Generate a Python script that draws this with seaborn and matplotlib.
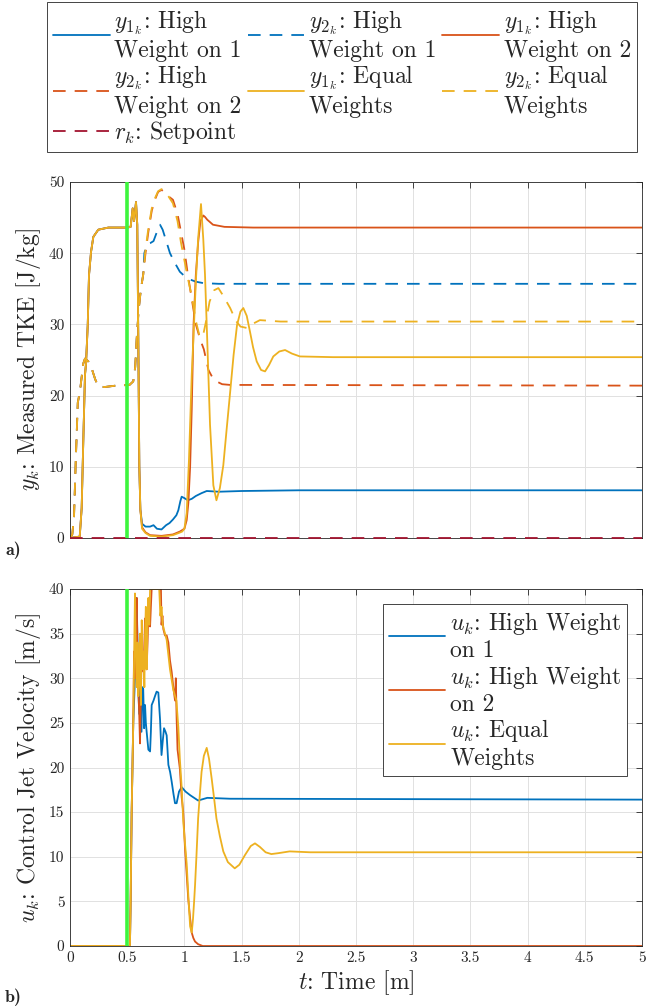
import matplotlib
matplotlib.use("Agg")
import matplotlib.pyplot as plt
import seaborn as sns

# ---------------- data ----------------
# panel a) measured TKE
y1_rise_t = [0.0, 0.085, 0.102, 0.116, 0.131, 0.14, 0.155, 0.166, 0.184, 0.204, 0.247, 0.335, 0.5, 0.53,
             0.548, 0.56, 0.577, 0.588, 0.597, 0.606, 0.615]
y1_rise = [0.0, 0.2, 4.2, 13.5, 22.9, 24.5, 29.9, 36.9, 40.2, 42.3, 43.3, 43.6, 43.6, 43.7,
           46.3, 44.5, 47.2, 44.0, 28.0, 10.0, 4.0]

y1_w1_t = [0.63, 0.66, 0.7, 0.73, 0.76, 0.8, 0.84, 0.87, 0.9, 0.93, 0.947, 0.965, 0.976, 1.0, 1.03,
           1.064, 1.1, 1.15, 1.195, 1.3, 1.5, 2.0, 5.0]
y1_w1 = [2.0, 1.6, 1.6, 1.8, 1.3, 1.2, 1.8, 2.1, 2.6, 3.2, 3.9, 5.2, 5.8, 5.6, 5.3,
         5.5, 5.9, 6.3, 6.6, 6.5, 6.6, 6.7, 6.7]

y1_w2_t = [0.63, 0.66, 0.7, 0.8, 0.9, 0.96, 1.0, 1.02, 1.035, 1.05, 1.064, 1.08, 1.1, 1.12, 1.14,
           1.165, 1.18, 1.2, 1.25, 1.35, 1.6, 5.0]
y1_w2 = [1.5, 0.8, 0.4, 0.3, 0.5, 0.9, 1.3, 2.5, 5.0, 10.0, 18.0, 30.0, 37.0, 41.5, 44.5,
         45.3, 45.1, 44.7, 44.0, 43.7, 43.6, 43.6]

y1_eq_t = [0.63, 0.66, 0.7, 0.8, 0.9, 0.95, 0.98, 1.0, 1.02, 1.04, 1.064, 1.08, 1.1, 1.12, 1.145,
           1.165, 1.18, 1.2, 1.224, 1.253, 1.28, 1.31, 1.34, 1.37, 1.4, 1.43, 1.46, 1.49, 1.515,
           1.545, 1.573, 1.6, 1.632, 1.67, 1.705, 1.74, 1.777, 1.83, 1.88, 1.94, 2.01, 2.3, 5.0]
y1_eq = [1.3, 0.7, 0.3, 0.2, 0.4, 0.7, 0.9, 1.3, 3.5, 11.0, 22.9, 28.5, 36.0, 42.0, 46.9,
         42.0, 37.0, 27.6, 15.9, 7.4, 5.3, 7.0, 10.2, 15.4, 20.5, 25.7, 29.9, 31.8, 32.3,
         31.2, 29.0, 26.8, 24.8, 23.6, 23.4, 24.3, 25.5, 26.2, 26.4, 25.9, 25.5, 25.4, 25.4]

y2_rise_t = [0.0, 0.02, 0.035, 0.05, 0.068, 0.087, 0.116, 0.131, 0.16, 0.19, 0.22, 0.247, 0.3, 0.4,
             0.52, 0.553, 0.57, 0.583, 0.6, 0.62, 0.64]
y2_rise = [0.0, 0.5, 3.0, 10.7, 19.0, 20.6, 24.5, 25.2, 24.8, 23.8, 22.3, 21.3, 21.2, 21.4,
           21.5, 22.0, 24.0, 28.0, 32.0, 35.0, 37.0]

y2_w1_t = [0.65, 0.67, 0.7, 0.73, 0.76, 0.787, 0.81, 0.845, 0.874, 0.918, 0.96, 1.0, 1.05, 1.1,
           1.165, 1.3, 5.0]
y2_w1 = [40.0, 41.2, 41.4, 41.7, 43.0, 44.0, 43.3, 41.5, 40.0, 38.6, 37.4, 36.8, 36.3, 36.0,
         35.8, 35.7, 35.7]

y2_w2_t = [0.66, 0.685, 0.715, 0.745, 0.77, 0.8, 0.83, 0.86, 0.9, 0.94, 0.97, 1.0, 1.03, 1.065,
           1.1, 1.14, 1.17, 1.21, 1.25, 1.28, 1.33, 1.4, 5.0]
y2_w2 = [40.0, 43.0, 46.0, 47.6, 48.6, 48.9, 48.5, 48.0, 47.5, 45.5, 43.0, 40.5, 37.0, 33.5,
         30.0, 27.8, 26.5, 23.6, 22.4, 22.0, 21.6, 21.5, 21.4]

y2_eq_t = [0.66, 0.685, 0.715, 0.745, 0.77, 0.8, 0.83, 0.86, 0.9, 0.94, 0.97, 1.0, 1.03, 1.065,
           1.1, 1.13, 1.16, 1.19, 1.22, 1.26, 1.297, 1.34, 1.4, 1.45, 1.49, 1.545, 1.6, 1.66,
           1.75, 1.84, 5.0]
y2_eq = [40.5, 43.5, 46.3, 47.8, 48.7, 49.0, 48.6, 48.0, 47.0, 44.5, 41.5, 39.0, 36.5, 33.9,
         30.5, 28.5, 28.2, 30.5, 33.2, 34.8, 35.1, 34.0, 32.3, 30.5, 29.7, 29.5, 30.1, 30.6,
         30.5, 30.4, 30.4]

setpoint_t = [0.0, 5.0]
setpoint = [0.0, 0.0]

# panel b) control jet velocity
u_start_t = [0.0, 0.524]
u_start = [0.0, 0.0]

u_w1_t = [0.53, 0.539, 0.553, 0.568, 0.583, 0.597, 0.605, 0.615, 0.625, 0.632, 0.64, 0.648, 0.656,
          0.663, 0.67, 0.685, 0.7, 0.707, 0.714, 0.73, 0.743, 0.757, 0.772, 0.787, 0.8, 0.811,
          0.822, 0.835, 0.845, 0.86, 0.875, 0.889, 0.905, 0.918, 0.932, 0.945, 0.953, 0.976,
          1.01, 1.05, 1.12, 1.2, 1.4, 5.0]
u_w1 = [5.0, 15.0, 25.0, 30.0, 39.0, 29.0, 26.0, 29.0, 24.0, 29.0, 28.8, 24.4, 27.0,
        25.0, 24.0, 22.0, 21.8, 24.0, 27.0, 27.5, 28.0, 28.5, 28.4, 25.4, 21.4, 23.0,
        24.4, 24.0, 23.6, 20.3, 19.5, 18.4, 17.0, 16.0, 16.0, 16.8, 17.3, 17.8,
        17.3, 16.9, 16.3, 16.6, 16.5, 16.4]

u_w2_t = [0.53, 0.539, 0.553, 0.56, 0.568, 0.575, 0.583, 0.59, 0.597, 0.605, 0.612, 0.62, 0.627,
          0.635, 0.643, 0.65, 0.656, 0.663, 0.67, 0.678, 0.685, 0.693, 0.7, 0.707, 0.714, 0.76,
          0.795, 0.8, 0.808, 0.816, 0.83, 0.845, 0.86, 0.874, 0.889, 0.903, 0.918, 0.925, 0.932,
          0.94, 0.96, 0.976, 0.99, 1.005, 1.02, 1.034, 1.05, 1.064, 1.078, 1.093, 1.12, 1.16, 5.0]
u_w2 = [5.0, 15.0, 25.0, 33.0, 30.0, 36.0, 39.0, 33.0, 29.0, 26.0, 22.7, 28.7, 33.7,
        32.0, 30.7, 34.0, 36.7, 34.0, 31.0, 34.0, 37.0, 36.0, 35.8, 38.0, 40.0, 40.0,
        40.0, 36.0, 37.0, 35.5, 34.8, 34.8, 34.0, 32.0, 30.7, 29.0, 27.5, 30.0, 25.5,
        22.0, 19.9, 16.7, 15.0, 11.0, 8.0, 5.2, 3.1, 1.5, 0.9, 0.5, 0.2, 0.0, 0.0]

u_eq_t = [0.53, 0.539, 0.553, 0.562, 0.568, 0.575, 0.583, 0.59, 0.597, 0.605, 0.612, 0.62, 0.627,
          0.635, 0.643, 0.65, 0.656, 0.663, 0.67, 0.678, 0.685, 0.693, 0.7, 0.75, 0.78, 0.79,
          0.8, 0.81, 0.845, 0.874, 0.903, 0.93, 0.947, 0.96, 0.976, 0.99, 1.005, 1.02, 1.035,
          1.05, 1.064, 1.075, 1.085, 1.093, 1.105, 1.12, 1.135, 1.15, 1.17, 1.195, 1.215, 1.238,
          1.26, 1.28, 1.31, 1.34, 1.38, 1.44, 1.48, 1.53, 1.58, 1.617, 1.66, 1.71, 1.76, 1.82,
          1.92, 2.1, 5.0]
u_eq = [5.0, 15.0, 25.0, 34.0, 39.5, 33.0, 29.0, 34.0, 28.0, 30.0, 35.0, 27.0, 36.5,
        31.0, 33.0, 29.0, 35.0, 38.0, 31.0, 36.0, 39.0, 36.0, 40.0, 40.0, 40.0, 37.0,
        38.0, 36.0, 34.3, 31.0, 28.7, 27.5, 24.5, 21.0, 17.8, 14.0, 11.5, 9.2, 5.5,
        2.2, 1.5, 3.0, 5.0, 6.8, 10.0, 14.3, 17.0, 19.5, 21.3, 22.2, 21.0, 18.8,
        16.5, 14.3, 12.3, 10.6, 9.4, 8.7, 9.1, 10.2, 11.2, 11.5, 11.1, 10.5, 10.3, 10.4,
        10.6, 10.5, 10.5]

event_time = 0.5
x_ticks = [0, 0.5, 1, 1.5, 2, 2.5, 3, 3.5, 4, 4.5, 5]
x_tick_labels = ["0", "0.5", "1", "1.5", "2", "2.5", "3", "3.5", "4", "4.5", "5"]
y_ticks_a = [0, 10, 20, 30, 40, 50]
y_ticks_b = [0, 5, 10, 15, 20, 25, 30, 35, 40]

labels_a = [r"$y_{1_k}$: High" + "\nWeight on 1",
            r"$y_{2_k}$: High" + "\nWeight on 1",
            r"$y_{1_k}$: High" + "\nWeight on 2",
            r"$y_{2_k}$: High" + "\nWeight on 2",
            r"$y_{1_k}$: Equal" + "\nWeights",
            r"$y_{2_k}$: Equal" + "\nWeights",
            r"$r_k$: Setpoint"]
labels_b = [r"$u_k$: High Weight" + "\non 1",
            r"$u_k$: High Weight" + "\non 2",
            r"$u_k$: Equal" + "\nWeights"]

# ---------------- style ----------------
C_BLUE, C_ORANGE, C_YELLOW = "#0072BD", "#D95319", "#EDB120"
C_RED, C_GREEN, C_DARK = "#A2142F", "#3DF53D", "#262626"
LW = 1.3

sns.set_theme(style="white")
plt.rcParams.update({
    "font.family": ["cmr10", "DejaVu Serif"],
    "mathtext.fontset": "cm",
    "axes.formatter.use_mathtext": True,
    "axes.unicode_minus": False,
    "lines.dashed_pattern": [7, 5],
})

fig = plt.figure(figsize=(6.6, 10.08), dpi=100)
ax1 = fig.add_axes([70 / 660, 1 - 538 / 1008, 572 / 660, 356 / 1008])
ax2 = fig.add_axes([70 / 660, 1 - 946 / 1008, 572 / 660, 357 / 1008])


def draw(ax, t, y, color, ls, label=None, **kw):
    sns.lineplot(x=t, y=y, ax=ax, color=color, linestyle=ls, linewidth=LW,
                 estimator=None, sort=False, label=label, legend=False, **kw)


# panel a
draw(ax1, y1_rise_t + y1_w1_t, y1_rise + y1_w1, C_BLUE, "-", labels_a[0])
draw(ax1, y2_rise_t + y2_w1_t, y2_rise + y2_w1, C_BLUE, "--", labels_a[1])
draw(ax1, y1_rise_t + y1_w2_t, y1_rise + y1_w2, C_ORANGE, "-", labels_a[2])
draw(ax1, y2_rise_t + y2_w2_t, y2_rise + y2_w2, C_ORANGE, "--", labels_a[3])
draw(ax1, y1_rise_t + y1_eq_t, y1_rise + y1_eq, C_YELLOW, "-", labels_a[4])
draw(ax1, y2_rise_t + y2_eq_t, y2_rise + y2_eq, C_YELLOW, "--", labels_a[5])
draw(ax1, setpoint_t, setpoint, C_RED, "--", labels_a[6], clip_on=False, zorder=4)
ax1.axvline(event_time, color=C_GREEN, lw=2.6, zorder=6)

# panel b
draw(ax2, u_start_t + u_w1_t, u_start + u_w1, C_BLUE, "-", labels_b[0])
draw(ax2, u_start_t + u_w2_t, u_start + u_w2, C_ORANGE, "-", labels_b[1])
draw(ax2, u_start_t + u_eq_t, u_start + u_eq, C_YELLOW, "-", labels_b[2])
ax2.axvline(event_time, color=C_GREEN, lw=2.6, zorder=6)

for ax, yt, ylim in ((ax1, y_ticks_a, (0, 50)), (ax2, y_ticks_b, (0, 40))):
    ax.set_xlim(0, 5)
    ax.set_ylim(*ylim)
    ax.set_xticks(x_ticks)
    ax.set_yticks(yt)
    ax.set_yticklabels([str(v) for v in yt])
    ax.grid(True, color="#e1e1e1", lw=0.7)
    ax.set_axisbelow(True)
    ax.tick_params(direction="in", top=True, right=True, length=4, width=0.6,
                   color=C_DARK, labelsize=11, labelcolor=C_DARK, pad=4)
    for sp in ax.spines.values():
        sp.set_color(C_DARK)
        sp.set_linewidth(0.6)
        sp.set_visible(True)
        sp.set_zorder(2.5)

ax1.set_xticklabels([])
ax2.set_xticklabels(x_tick_labels)
ax1.set_xlabel("")
ax1.set_ylabel(r"$y_k$: Measured TKE [J/kg]", fontsize=17, color=C_DARK, labelpad=4)
ax2.set_ylabel(r"$u_k$: Control Jet Velocity [m/s]", fontsize=17, color=C_DARK, labelpad=4)
ax2.set_xlabel(r"$t$: Time [m]", fontsize=17, color=C_DARK, labelpad=2)

# top legend (row-major order as in the reference)
h, l = ax1.get_legend_handles_labels()
order = [0, 3, 6, 1, 4, 2, 5]
leg1 = fig.legend([h[i] for i in order], [l[i] for i in order], ncol=3,
                  loc="lower left", bbox_to_anchor=(47 / 660, 1 - 152 / 1008, 590 / 660, 0.1),
                  mode="expand", fontsize=17, frameon=True, fancybox=False, framealpha=1,
                  edgecolor=C_DARK, handlelength=2.4, handletextpad=0.2, columnspacing=0.4,
                  borderpad=0.25, labelspacing=0.05, borderaxespad=0)
leg1.get_frame().set_linewidth(0.6)

leg2 = ax2.legend(loc="upper right", bbox_to_anchor=((627 - 70) / 572, (946 - 604) / 357),
                  fontsize=17, frameon=True, fancybox=False, framealpha=1, edgecolor=C_DARK,
                  handlelength=2.4, handletextpad=0.2, borderpad=0.25, labelspacing=0.05,
                  borderaxespad=0)
leg2.get_frame().set_linewidth(0.6)

fig.text(5 / 660, 1 - 555 / 1008, "a)", fontsize=13, family=["cmb10", "DejaVu Serif"],
         color=C_DARK)
fig.text(5 / 660, 1 - 1002 / 1008, "b)", fontsize=13, family=["cmb10", "DejaVu Serif"],
         color=C_DARK)

fig.savefig("out.png", dpi=100)
